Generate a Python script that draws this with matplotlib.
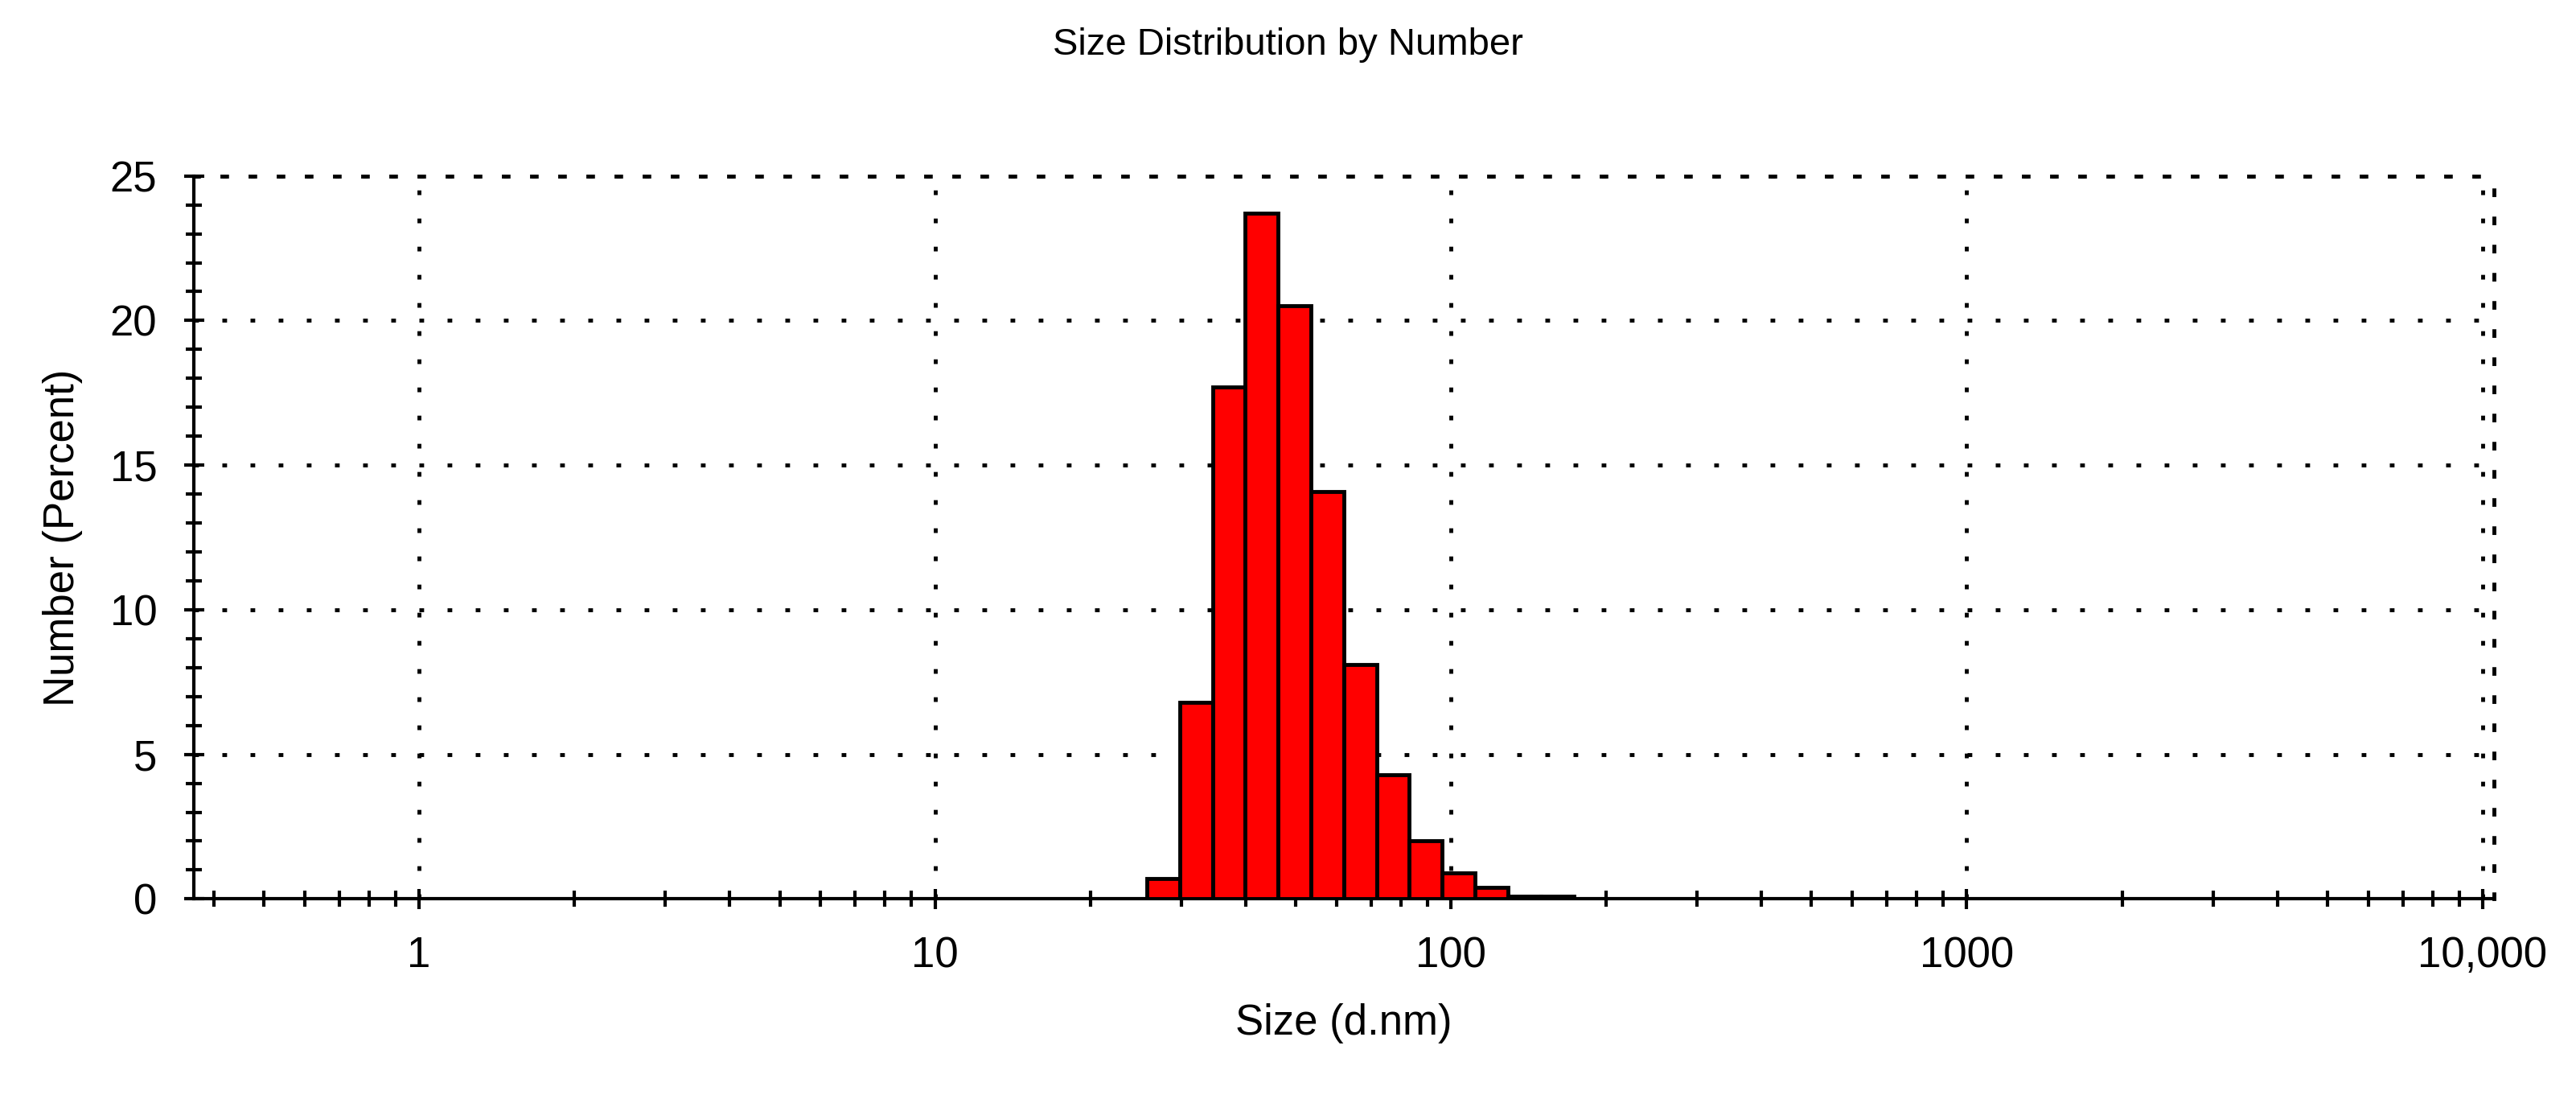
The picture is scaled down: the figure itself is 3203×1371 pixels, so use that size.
import matplotlib.pyplot as plt
from matplotlib.ticker import FixedLocator, LogLocator, NullFormatter

plt.rcParams["font.family"] = ["Liberation Sans", "DejaVu Sans"]

# bin edges (d.nm) and number percent per bin
bin_edges = [25.7, 29.8, 34.5, 39.9, 46.2, 53.5, 62.0, 71.8, 83.1,
             96.2, 111.4, 129.0, 149.4, 173.0]
number_pct = [0.7, 6.8, 17.7, 23.7, 20.5, 14.1, 8.1, 4.3, 2.0, 0.9, 0.4, 0.1, 0.1]

x_ticks = [1, 10, 100, 1000, 10000]
x_labels = ["1", "10", "100", "1000", "10,000"]
y_ticks = [0, 5, 10, 15, 20, 25]

fig = plt.figure(figsize=(32.03, 13.71), dpi=100)
ax = fig.add_axes([0.0753, 0.185, 0.8927, 0.6555])

lefts = bin_edges[:-1]
widths = [b - a for a, b in zip(bin_edges[:-1], bin_edges[1:])]
ax.bar(lefts, number_pct, width=widths, align="edge",
       color="#ff0000", edgecolor="black", linewidth=3.5, zorder=3)

ax.set_xscale("log")
ax.set_xlim(0.366, 10500)
ax.set_ylim(0, 25)

ax.xaxis.set_major_locator(FixedLocator(x_ticks))
ax.set_xticklabels(x_labels)
ax.xaxis.set_minor_locator(LogLocator(base=10, subs=range(2, 10)))
ax.xaxis.set_minor_formatter(NullFormatter())
ax.set_yticks(y_ticks)
ax.yaxis.set_minor_locator(FixedLocator(range(0, 26)))

ax.tick_params(axis="both", which="major", direction="inout", length=18,
               width=3, labelsize=38, pad=24)
ax.tick_params(axis="both", which="minor", direction="inout", length=14,
               width=3)

ax.grid(True, which="major", linestyle=(0, (1.2, 6)), color="black",
        linewidth=3.5, zorder=0)

for side in ["top", "right"]:
    ax.spines[side].set_linestyle((0, (1.2, 6)))
    ax.spines[side].set_linewidth(3.5)
for side in ["left", "bottom"]:
    ax.spines[side].set_linewidth(3)

ax.set_xlabel("Size (d.nm)", fontsize=38, labelpad=24)
ax.set_ylabel("Number (Percent)", fontsize=38, labelpad=24)
fig.suptitle("Size Distribution by Number", fontsize=34, y=0.975)

fig.savefig("out.png", dpi=100)
plt.close(fig)
